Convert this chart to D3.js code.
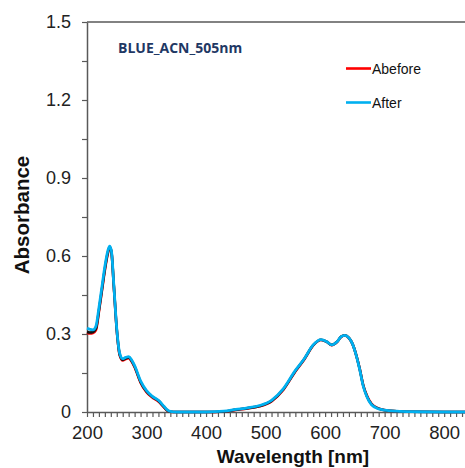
<!DOCTYPE html>
<html>
<head>
<meta charset="utf-8">
<script src="https://cdn.jsdelivr.net/npm/d3@7"></script>
<style>
  html, body { margin: 0; padding: 0; background: #fff; }
  svg { display: block; }
</style>
</head>
<body>
<svg id="chart" width="465" height="468"></svg>
<script>
// Absorption spectra of BLUE in ACN (505 nm run)
const wavelengths = [200,205,210,215,220,225,230,235,238,241,245,250,255,260,265,270,275,280,290,300,310,320,330,335,340,350,400,430,450,470,490,510,530,550,565,580,593,603,611,620,627,633,640,646,652,658,664,670,678,690,700,720,750,800,835];
const absBefore = [0.305,0.302,0.304,0.315,0.385,0.465,0.545,0.61,0.632,0.615,0.485,0.315,0.218,0.198,0.204,0.207,0.194,0.172,0.113,0.076,0.055,0.04,0.016,0.005,0.001,0,0,0.002,0.008,0.014,0.022,0.041,0.086,0.156,0.202,0.256,0.277,0.27,0.257,0.269,0.289,0.294,0.284,0.262,0.221,0.168,0.104,0.064,0.031,0.014,0.008,0.003,0.001,0,0];
const absMid = [0.308,0.306,0.308,0.32,0.39,0.47,0.55,0.614,0.634,0.617,0.488,0.318,0.221,0.201,0.207,0.21,0.197,0.175,0.116,0.079,0.058,0.043,0.018,0.006,0.001,0,0,0.002,0.009,0.015,0.023,0.043,0.088,0.158,0.204,0.257,0.278,0.27,0.258,0.27,0.29,0.295,0.285,0.262,0.221,0.166,0.102,0.062,0.03,0.013,0.007,0.003,0.001,0,0];
const absAfter = [0.322,0.318,0.316,0.33,0.40,0.48,0.56,0.62,0.638,0.62,0.49,0.32,0.225,0.205,0.21,0.213,0.2,0.178,0.12,0.082,0.06,0.045,0.02,0.008,0.002,0,0,0.003,0.01,0.016,0.025,0.045,0.09,0.16,0.205,0.258,0.278,0.27,0.258,0.27,0.29,0.295,0.285,0.262,0.22,0.165,0.1,0.06,0.028,0.012,0.007,0.003,0.001,0,0];

const xTicks = [200,300,400,500,600,700,800];
const yTicks = [0,0.3,0.6,0.9,1.2,1.5];
const yTickLabels = ["0","0.3","0.6","0.9","1.2","1.5"];
const seriesNames = ["Abefore","After"];
const seriesColors = {Abefore:"#ff0000", mid:"#111111", After:"#00b0f0"};

const svg = d3.select("#chart");
const plotLeft = 87, plotRight = 465, plotTop = 22, plotBottom = 412;

const x = d3.scaleLinear().domain([200, 835]).range([plotLeft, plotRight]);
const y = d3.scaleLinear().domain([0, 1.5]).range([plotBottom, plotTop]);

const axisColor = "#595959";
const font = "'Liberation Sans', Arial, sans-serif";

// top frame line
svg.append("line")
  .attr("x1", plotLeft).attr("x2", plotRight)
  .attr("y1", plotTop).attr("y2", plotTop)
  .attr("stroke", axisColor).attr("stroke-width", 1.5);

// x axis: minor ticks every 10 nm, labels every 100 nm
const xAxis = d3.axisBottom(x)
  .tickValues(d3.range(200, 836, 10))
  .tickSize(5)
  .tickSizeOuter(0)
  .tickFormat(d => xTicks.includes(d) ? d : "");
const gx = svg.append("g").attr("transform", `translate(0,${plotBottom})`).call(xAxis);
gx.select(".domain").attr("stroke", axisColor).attr("stroke-width", 1.5);
gx.selectAll(".tick line").attr("stroke", axisColor).attr("stroke-width", 1.2);
gx.selectAll(".tick text")
  .attr("font-family", font).attr("font-size", 18.5).attr("fill", "#222")
  .attr("dy", "1.05em");

// y axis: minor ticks midway between labels
const yAxis = d3.axisLeft(y)
  .tickValues(d3.range(0, 1.51, 0.15).map(v => +v.toFixed(2)))
  .tickSize(5)
  .tickSizeOuter(0)
  .tickFormat(d => {
    const i = yTicks.findIndex(t => Math.abs(t - d) < 1e-6);
    return i >= 0 ? yTickLabels[i] : "";
  });
const gy = svg.append("g").attr("transform", `translate(${plotLeft},0)`).call(yAxis);
gy.select(".domain").attr("stroke", axisColor).attr("stroke-width", 1.5);
gy.selectAll(".tick line").attr("stroke", axisColor).attr("stroke-width", 1.2);
gy.selectAll(".tick text")
  .attr("font-family", font).attr("font-size", 18).attr("fill", "#222")
  .attr("x", -16);

// axis titles
svg.append("text")
  .attr("x", 293).attr("y", 463)
  .attr("text-anchor", "middle")
  .attr("font-family", font).attr("font-weight", "bold").attr("font-size", 19)
  .attr("fill", "#111")
  .text("Wavelength [nm]");
svg.append("text")
  .attr("transform", "translate(29,215) rotate(-90)")
  .attr("text-anchor", "middle")
  .attr("font-family", font).attr("font-weight", "bold").attr("font-size", 20.5)
  .attr("fill", "#111")
  .text("Absorbance");

// spectrum lines
const line = d3.line()
  .x((d, i) => x(wavelengths[i]))
  .y(d => y(d))
  .curve(d3.curveMonotoneX);

const plot = svg.append("g");
[[absBefore, seriesColors.Abefore, 2.6], [absMid, seriesColors.mid, 2.6], [absAfter, seriesColors.After, 2.8]]
  .forEach(([vals, col, w]) => {
    plot.append("path")
      .datum(vals)
      .attr("d", line)
      .attr("fill", "none")
      .attr("stroke", col)
      .attr("stroke-width", w)
      .attr("stroke-linejoin", "round");
  });

// sample label
svg.append("text")
  .attr("x", 118).attr("y", 53)
  .attr("font-family", "'Open Sans', sans-serif").attr("font-weight", "bold").attr("font-size", 14)
  .attr("fill", "#1f3864")
  .text("BLUE_ACN_505nm");

// legend
const legend = svg.append("g");
seriesNames.forEach((name, i) => {
  const ly = 68.5 + i * 34;
  legend.append("line")
    .attr("x1", 346).attr("x2", 371)
    .attr("y1", ly).attr("y2", ly)
    .attr("stroke", seriesColors[name]).attr("stroke-width", 2.6);
  legend.append("text")
    .attr("x", 372).attr("y", ly + 5)
    .attr("font-family", font).attr("font-size", 14)
    .attr("fill", "#111")
    .text(name);
});
</script>
</body>
</html>
